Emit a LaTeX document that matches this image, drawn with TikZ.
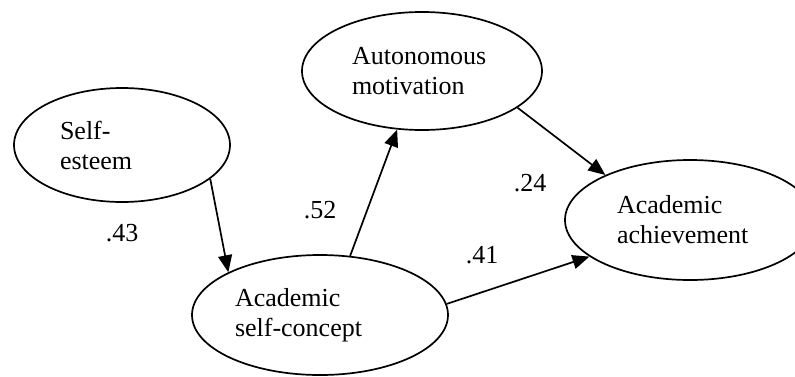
\documentclass[tikz,border=0pt]{standalone}
\usepackage{fontspec}
\setmainfont{Liberation Serif}
\usetikzlibrary{shapes.geometric,arrows.meta}
\tikzset{
	latent/.style={draw, ellipse, line width=1.7pt, inner sep=0pt, align=left, font=\fontsize{26}{30}\selectfont},
	effect/.style={line width=1.7pt, -{Triangle[length=17pt,width=14pt]}},
	coef/.style={font=\fontsize{26}{30}\selectfont}
}

\begin{document}
\begin{tikzpicture}[x=1pt,y=-1pt]
			%%%%% START %%%%%
			
			\path[use as bounding box] (0,0) rectangle (795,376);
			\clip (0,0) rectangle (795,376);
			
			\node[latent, minimum width=216pt, minimum height=114pt, text width=124pt] (esteem) at (122,145) {Self-\\esteem};
			\node[latent, minimum width=240pt, minimum height=118pt, text width=140pt] (motiv) at (422,71) {Autonomous\\motivation};
			\node[latent, minimum width=250pt, minimum height=120pt, text width=146pt] (achieve) at (690,220) {Academic\\achievement};
			\node[latent, minimum width=256pt, minimum height=120pt, text width=170pt] (concept) at (320,315) {Academic\\self-concept};
			
			\draw[effect] (esteem.-21) -- (concept.155);
			\draw[effect] (concept.63) -- (motiv.-113);
			\draw[effect] (motiv.-21) -- (achieve.152);
			\draw[effect] (concept.5) -- (achieve.200);
			
			\node[coef] (b43) at (122,233) {.43};
			\node[coef] (b52) at (320,210) {.52};
			\node[coef] (b24) at (530,183) {.24};
			\node[coef] (b41) at (482,255) {.41};
			
			%%%%% END %%%%%
\end{tikzpicture}
\end{document}
